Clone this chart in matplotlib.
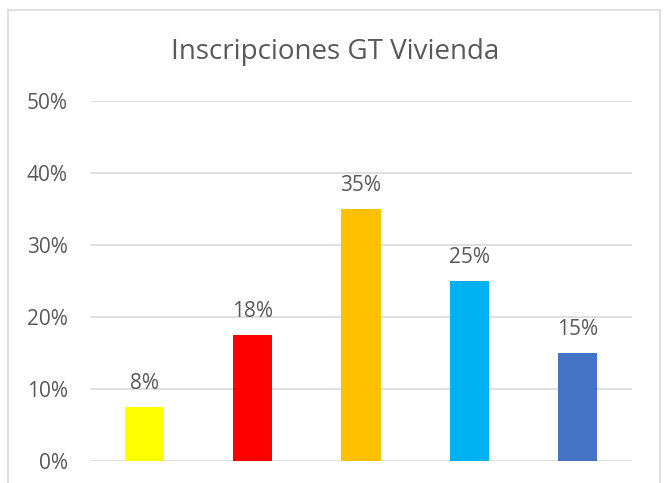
import matplotlib
matplotlib.use("Agg")
import matplotlib.pyplot as plt
from matplotlib.patches import Rectangle

categories = ["A", "B", "C", "D", "E"]
values = [7.5, 17.5, 35, 25, 15]
labels = ["8%", "18%", "35%", "25%", "15%"]
colors = ["#FFFF00", "#FF0000", "#FFC000", "#00B0F0", "#4472C4"]
yticks = [0, 10, 20, 30, 40, 50]
ytick_labels = ["0%", "10%", "20%", "30%", "40%", "50%"]

plt.rcParams['font.family'] = ['Open Sans', 'DejaVu Sans']
text_color = "#595959"

fig = plt.figure(figsize=(6.67, 4.83), dpi=100)
fig.patches.append(Rectangle((8/667, -0.05), (660-8)/667, 1.05 - 10/483,
                             transform=fig.transFigure, fill=False,
                             edgecolor="#D9D9D9", linewidth=1.2))
ax = fig.add_axes([90/667, 1-461/483, (632-90)/667, (461-101)/483])

x = list(range(len(categories)))
bars = ax.bar(x, values, width=0.36, color=colors, zorder=3)
for xi, v, lab in zip(x, values, labels):
    ax.annotate(lab, (xi, v), xytext=(0, 9.5), textcoords="offset points",
                ha="center", va="bottom", fontsize=15, color=text_color)

ax.set_xlim(-0.5, 4.5)
ax.set_ylim(0, 50)
ax.set_yticks(yticks)
ax.set_yticklabels(ytick_labels, fontsize=15, color=text_color)
ax.set_xticks([])
ax.tick_params(axis="y", length=0, pad=16)
ax.grid(axis="y", color="#D9D9D9", linewidth=1.2, zorder=0)
for s in ax.spines.values():
    s.set_visible(False)

fig.text(0.502, 1-52/483, "Inscripciones GT Vivienda", ha="center", va="center",
         fontsize=20, color=text_color)

fig.savefig("out.png", dpi=100)
